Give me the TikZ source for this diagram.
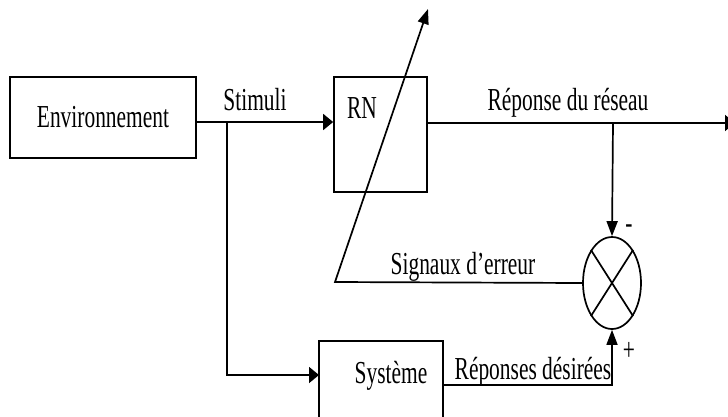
\documentclass[tikz,border=0pt]{standalone}
\usepackage{fontspec}
\setmainfont[FakeStretch=0.67]{Liberation Serif}
\usepackage{tikz}
\usetikzlibrary{positioning,arrows.meta,shapes.geometric}

\begin{document}
\begin{tikzpicture}[x=1pt,y=-1pt,line width=1.7pt,
  box/.style={draw,rectangle,inner sep=0pt},
  txt/.style={inner sep=0pt,font=\fontsize{32}{36}\selectfont},
  harr/.style={-{Triangle[length=10pt,width=16pt]}},
  varr/.style={-{Triangle[length=15pt,width=11pt]}}]
\useasboundingbox (0,0) rectangle (728,416);
\clip (0,0) rectangle (728,416);
% blocs
\node[box,minimum width=186pt,minimum height=81pt] (env) at (103,117.5) {};
\node[txt] (envlab) at (env) {Environnement};
\node[box,minimum width=93pt,minimum height=115pt] (rn) at (380.5,134.5) {};
\node[txt] (rnlab) at (362,108) {RN};
\node[box,minimum width=124pt,minimum height=100pt] (sys) at (381,391) {};
\node[txt] (syslab) at (391,376) {Système};
\node[draw,ellipse,inner sep=0pt,minimum width=58pt,minimum height=92pt] (sum) at (612,283) {};
\draw (sum.north west) -- (sum.south east);
\draw (sum.north east) -- (sum.south west);
% points
\coordinate (split) at (227,122);
\coordinate (tap) at (613,123);
\coordinate (out) at (735,123);
\coordinate (sysin) at (319,375);
\coordinate (desout) at (443,385);
\coordinate (err) at (335,282);
\coordinate (tip) at (428,9);
% liaisons
\draw[harr] (split -| env.east) -- (split -| rn.west);
\draw[harr] (split) |- (sysin);
\draw[harr] (tap -| rn.east) -- (out);
\draw[varr] (tap) -- (sum.north);
\draw[varr] (desout) -| (sum.south);
\draw[varr] (sum.west) -- (err) -- (tip);
% textes
\node[txt] (stim) at (255,100) {Stimuli};
\node[txt] (rep) at (568,103) {Réponse du réseau};
\node[txt] (sig) at (463,267) {Signaux d’erreur};
\node[txt] (des) at (533,372) {Réponses désirées};
\node[txt] (moins) at (629,229) {-};
\node[txt] (plus) at (629,351) {+};
\end{tikzpicture}
\end{document}
